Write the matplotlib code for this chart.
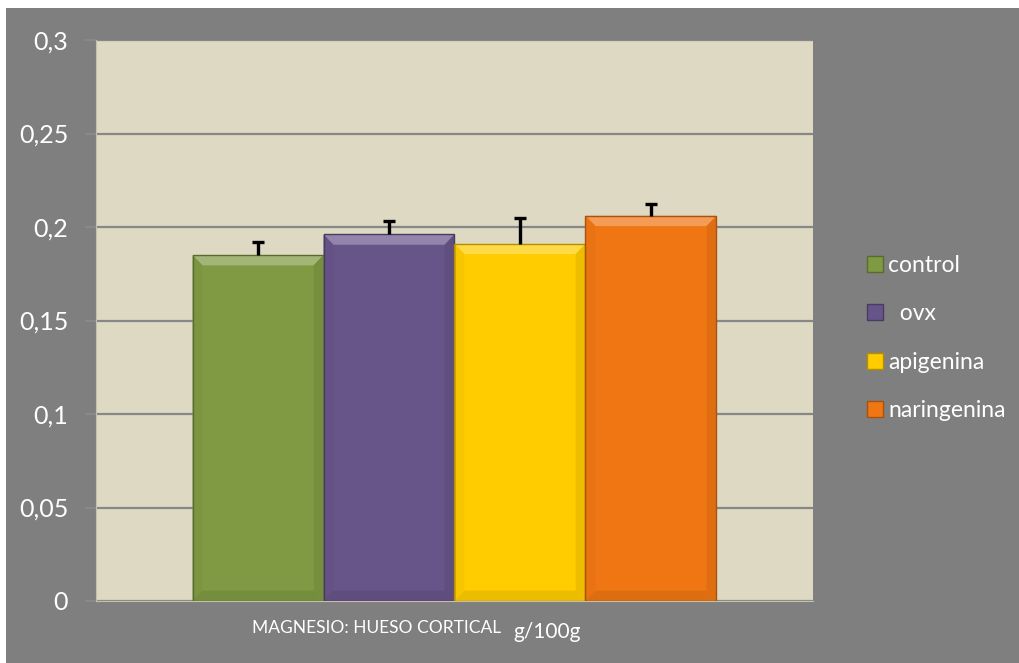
import numpy as np
import matplotlib.pyplot as plt
from matplotlib.patches import Patch, Polygon, Rectangle
from matplotlib.colors import to_rgb

# magnesio en hueso cortical, g/100g
groups = ['control', '  ovx', 'apigenina', 'naringenina']
values = [0.185, 0.196, 0.191, 0.206]
errors = [0.007, 0.007, 0.014, 0.0065]
colors = ['#7f9a43', '#675489', '#ffcc00', '#f07613']
yticks = [0, 0.05, 0.1, 0.15, 0.2, 0.25, 0.3]

BG = '#7f7f7f'
PLOT_BG = '#ddd9c3'
GRID = '#878787'
FONT = 'Lato'


def shade(c, f):
    r = np.array(to_rgb(c))
    if f > 0:
        return tuple(r + (1 - r) * f)
    return tuple(r * (1 + f))


def bevel(ax, rect, color, bx=0.075, by=0.0055):
    x0, w, h = rect.get_x(), rect.get_width(), rect.get_height()
    x1 = x0 + w
    top = [(x0, h), (x1, h), (x1 - bx, h - by), (x0 + bx, h - by)]
    left = [(x0, 0), (x0, h), (x0 + bx, h - by), (x0 + bx, by)]
    right = [(x1, 0), (x1, h), (x1 - bx, h - by), (x1 - bx, by)]
    bottom = [(x0, 0), (x1, 0), (x1 - bx, by), (x0 + bx, by)]
    for pts, f in ((top, 0.28), (left, -0.03), (right, -0.07), (bottom, -0.08)):
        ax.add_patch(Polygon(pts, closed=True, facecolor=shade(color, f),
                             edgecolor='none', zorder=3))
    ax.add_patch(Rectangle((x0, 0), w, h, facecolor='none',
                           edgecolor=shade(color, -0.3), lw=1.0, zorder=4))


fig = plt.figure(figsize=(10.2, 6.63), dpi=100)
fig.patch.set_facecolor('white')
fig.add_artist(Rectangle((6 / 1020, 0), 1, 1 - 8 / 663, transform=fig.transFigure,
                         facecolor=BG, edgecolor='none', zorder=0))

ax = fig.add_axes([96 / 1020, 62 / 663, 717 / 1020, 561 / 663])
ax.set_facecolor(PLOT_BG)

x = np.arange(len(groups))
bars = ax.bar(x, values, width=1.0, color=colors, zorder=2)
for b, c in zip(bars, colors):
    bevel(ax, b, c)

# only the upper half of each error bar
tops = np.array(values) + np.array(errors)
ax.vlines(x, values, tops, color='black', lw=2.4, zorder=5)
ax.hlines(tops, x - 0.045, x + 0.045, color='black', lw=2.4, zorder=5)

ax.set_xlim(-0.5 - 0.737, len(groups) - 0.5 + 0.737)
ax.set_ylim(0, 0.3)
ax.set_yticks(yticks)
ax.set_yticklabels([('%g' % t).replace('.', ',') for t in yticks])
ax.set_xticks([])
ax.yaxis.grid(True, color=GRID, lw=1.6, zorder=1)
ax.set_axisbelow(True)
ax.tick_params(axis='y', colors='#8c8c8c', length=8, width=1.2, pad=12,
               labelcolor='white', labelsize=18)
for s in ax.spines.values():
    s.set_visible(False)
ax.spines['left'].set_visible(True)
ax.spines['left'].set_color('#c4c0aa')
ax.spines['bottom'].set_visible(True)
ax.spines['bottom'].set_color('#c4c0aa')
for lab in ax.get_yticklabels():
    lab.set_family(FONT)

fig.text(377 / 1020, 1 - 628 / 663, 'MAGNESIO: HUESO CORTICAL', color='white',
         ha='center', va='center', fontsize=12.5, family=FONT)
fig.text(547 / 1020, 1 - 632 / 663, 'g/100g', color='white',
         ha='center', va='center', fontsize=15, family=FONT)

handles = [Patch(facecolor=c, edgecolor=shade(c, -0.3)) for c in colors]
leg = fig.legend(handles, groups, loc='center left',
                 bbox_to_anchor=(846 / 1020, 1 - 338 / 663), frameon=False,
                 labelcolor='white', handlelength=0.7, handleheight=0.7,
                 handletextpad=0.25, labelspacing=1.2,
                 prop={'family': FONT, 'size': 16.5})

fig.savefig('out.png', dpi=100, facecolor=fig.get_facecolor())
